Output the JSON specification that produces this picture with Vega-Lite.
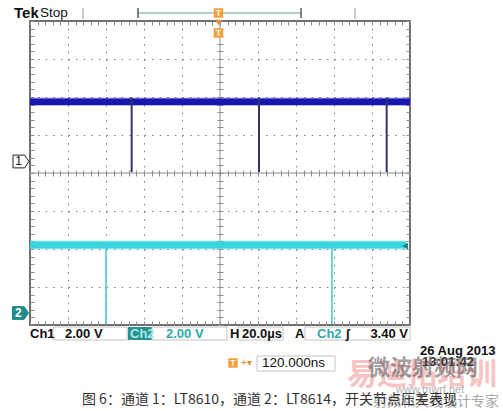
{
  "$schema": "https://vega.github.io/schema/vega-lite/v6.json",
  "width": 380,
  "height": 304,
  "autosize": {"type": "none"},
  "padding": {"left": 30, "top": 21, "right": 93, "bottom": 86},
  "background": "white",
  "config": {
    "view": {"stroke": "#6f6f6f", "strokeWidth": 2},
    "axis": {"labels": false, "domain": false, "grid": false, "tickColor": "#8c8c8c", "tickWidth": 1},
    "text": {"font": "Liberation Sans"}
  },
  "resolve": {"axis": {"x": "independent", "y": "independent"}},
  "datasets": {
    "ch1band": [{"x": 0, "x2": 10, "yo": 5.99, "yo2": 5.76, "yc": 5.96, "yc2": 5.79}],
    "ch2band": [{"x": 0, "x2": 9.9, "yo": 2.224, "yo2": 1.987, "yc": 2.197, "yc2": 2.013}],
    "ch1dips": [{"x": 2.675, "y": 5.99, "y2": 4.026}, {"x": 6.026, "y": 5.99, "y2": 4.026}, {"x": 9.386, "y": 5.99, "y2": 4.026}],
    "ch2dips": [{"x": 2.0, "y": 2.158, "y2": 0.026}, {"x": 7.947, "y": 2.158, "y2": 0.026}]
  },
  "layer": [
    {
      "data": {"values": [{"x": 5}]},
      "mark": {"type": "rule", "color": "#8c8c8c", "strokeWidth": 1},
      "encoding": {"x": {"field": "x", "type": "quantitative", "scale": {"domain": [0, 10], "nice": false, "zero": false}, "axis": null}}
    },
    {
      "data": {"values": [{"y": 4}]},
      "mark": {"type": "rule", "color": "#8c8c8c", "strokeWidth": 1},
      "encoding": {"y": {"field": "y", "type": "quantitative", "scale": {"domain": [0, 8], "nice": false, "zero": false}, "axis": null}}
    },
    {
      "data": {"name": "ch1band"},
      "mark": {"type": "rect", "color": "#2a2ac0", "opacity": 0.35},
      "encoding": {
        "x": {"field": "x", "type": "quantitative", "scale": {"domain": [0, 10], "nice": false, "zero": false},
          "axis": {"orient": "bottom", "values": [1, 2, 3, 4, 6, 7, 8, 9], "grid": true, "gridDash": [1.5, 6.1], "gridColor": "#7a7a7a", "ticks": false, "title": null}},
        "x2": {"field": "x2"},
        "y": {"field": "yo", "type": "quantitative", "scale": {"domain": [0, 8], "nice": false, "zero": false},
          "axis": {"orient": "left", "values": [1, 2, 3, 5, 6, 7], "grid": true, "gridDash": [1.5, 6.1], "gridColor": "#7a7a7a", "ticks": false, "title": null}},
        "y2": {"field": "yo2"}
      }
    },
    {
      "data": {"name": "ch1band"},
      "mark": {"type": "rect", "color": "#1818b0"},
      "encoding": {
        "x": {"field": "x", "type": "quantitative", "scale": {"domain": [0, 10], "nice": false, "zero": false},
          "axis": {"orient": "bottom", "offset": -4, "tickSize": 4, "title": null, "values": [0,0.2,0.4,0.6,0.8,1,1.2,1.4,1.6,1.8,2,2.2,2.4,2.6,2.8,3,3.2,3.4,3.6,3.8,4,4.2,4.4,4.6,4.8,5,5.2,5.4,5.6,5.8,6,6.2,6.4,6.6,6.8,7,7.2,7.4,7.6,7.8,8,8.2,8.4,8.6,8.8,9,9.2,9.4,9.6,9.8,10]}},
        "x2": {"field": "x2"},
        "y": {"field": "yc", "type": "quantitative", "scale": {"domain": [0, 8], "nice": false, "zero": false},
          "axis": {"orient": "left", "offset": -4, "tickSize": 4, "title": null, "values": [0,0.2,0.4,0.6,0.8,1,1.2,1.4,1.6,1.8,2,2.2,2.4,2.6,2.8,3,3.2,3.4,3.6,3.8,4,4.2,4.4,4.6,4.8,5,5.2,5.4,5.6,5.8,6,6.2,6.4,6.6,6.8,7,7.2,7.4,7.6,7.8,8]}},
        "y2": {"field": "yc2"}
      }
    },
    {
      "data": {"name": "ch2band"},
      "mark": {"type": "rect", "color": "#4adce4", "opacity": 0.4},
      "encoding": {
        "x": {"field": "x", "type": "quantitative", "scale": {"domain": [0, 10], "nice": false, "zero": false},
          "axis": {"orient": "top", "offset": -4, "tickSize": 4, "title": null, "values": [0,0.2,0.4,0.6,0.8,1,1.2,1.4,1.6,1.8,2,2.2,2.4,2.6,2.8,3,3.2,3.4,3.6,3.8,4,4.2,4.4,4.6,4.8,5,5.2,5.4,5.6,5.8,6,6.2,6.4,6.6,6.8,7,7.2,7.4,7.6,7.8,8,8.2,8.4,8.6,8.8,9,9.2,9.4,9.6,9.8,10]}},
        "x2": {"field": "x2"},
        "y": {"field": "yo", "type": "quantitative", "scale": {"domain": [0, 8], "nice": false, "zero": false},
          "axis": {"orient": "right", "offset": -4, "tickSize": 4, "title": null, "values": [0,0.2,0.4,0.6,0.8,1,1.2,1.4,1.6,1.8,2,2.2,2.4,2.6,2.8,3,3.2,3.4,3.6,3.8,4,4.2,4.4,4.6,4.8,5,5.2,5.4,5.6,5.8,6,6.2,6.4,6.6,6.8,7,7.2,7.4,7.6,7.8,8]}},
        "y2": {"field": "yo2"}
      }
    },
    {
      "data": {"name": "ch2band"},
      "mark": {"type": "rect", "color": "#3ad4de"},
      "encoding": {
        "x": {"field": "x", "type": "quantitative", "scale": {"domain": [0, 10], "nice": false, "zero": false},
          "axis": {"orient": "bottom", "offset": -155, "tickSize": 6, "title": null, "values": [0,0.2,0.4,0.6,0.8,1,1.2,1.4,1.6,1.8,2,2.2,2.4,2.6,2.8,3,3.2,3.4,3.6,3.8,4,4.2,4.4,4.6,4.8,5,5.2,5.4,5.6,5.8,6,6.2,6.4,6.6,6.8,7,7.2,7.4,7.6,7.8,8,8.2,8.4,8.6,8.8,9,9.2,9.4,9.6,9.8,10]}},
        "x2": {"field": "x2"},
        "y": {"field": "yc", "type": "quantitative", "scale": {"domain": [0, 8], "nice": false, "zero": false},
          "axis": {"orient": "left", "offset": -193, "tickSize": 6, "title": null, "values": [0,0.2,0.4,0.6,0.8,1,1.2,1.4,1.6,1.8,2,2.2,2.4,2.6,2.8,3,3.2,3.4,3.6,3.8,4,4.2,4.4,4.6,4.8,5,5.2,5.4,5.6,5.8,6,6.2,6.4,6.6,6.8,7,7.2,7.4,7.6,7.8,8]}},
        "y2": {"field": "yc2"}
      }
    },
    {
      "data": {"name": "ch1dips"},
      "mark": {"type": "rule", "color": "#34346e", "strokeWidth": 2},
      "encoding": {
        "x": {"field": "x", "type": "quantitative", "scale": {"domain": [0, 10], "nice": false, "zero": false}, "axis": null},
        "y": {"field": "y", "type": "quantitative", "scale": {"domain": [0, 8], "nice": false, "zero": false}, "axis": null},
        "y2": {"field": "y2"}
      }
    },
    {
      "data": {"name": "ch2dips"},
      "mark": {"type": "rule", "color": "#48ccd6", "strokeWidth": 1.6},
      "encoding": {
        "x": {"field": "x", "type": "quantitative", "scale": {"domain": [0, 10], "nice": false, "zero": false}, "axis": null},
        "y": {"field": "y", "type": "quantitative", "scale": {"domain": [0, 8], "nice": false, "zero": false}, "axis": null},
        "y2": {"field": "y2"}
      }
    },
    {
      "data": {"values": [{"x": 9.87, "y": 2.079}]},
      "mark": {"type": "point", "shape": "triangle-left", "filled": true, "color": "#1a7f84", "size": 45, "opacity": 1},
      "encoding": {
        "x": {"field": "x", "type": "quantitative", "scale": {"domain": [0, 10], "nice": false, "zero": false}, "axis": null},
        "y": {"field": "y", "type": "quantitative", "scale": {"domain": [0, 8], "nice": false, "zero": false}, "axis": null}
      }
    },
    {
      "data": {"values": [{"x": -0.237, "y": 4.303}]},
      "mark": {"type": "point", "shape": "M-1,-0.8L0.45,-0.8L1,0L0.45,0.8L-1,0.8Z", "filled": true, "fill": "white", "stroke": "#222222", "strokeWidth": 1, "size": 256, "opacity": 1},
      "encoding": {
        "x": {"field": "x", "type": "quantitative", "scale": {"domain": [0, 10], "nice": false, "zero": false}, "axis": null},
        "y": {"field": "y", "type": "quantitative", "scale": {"domain": [0, 8], "nice": false, "zero": false}, "axis": null}
      }
    },
    {
      "data": {"values": [{"x": -0.25, "y": 0.316}]},
      "mark": {"type": "point", "shape": "M-1,-0.8L0.45,-0.8L1,0L0.45,0.8L-1,0.8Z", "filled": true, "fill": "#1f8c8c", "stroke": "#1f8c8c", "strokeWidth": 1, "size": 256, "opacity": 1},
      "encoding": {
        "x": {"field": "x", "type": "quantitative", "scale": {"domain": [0, 10], "nice": false, "zero": false}, "axis": null},
        "y": {"field": "y", "type": "quantitative", "scale": {"domain": [0, 8], "nice": false, "zero": false}, "axis": null}
      }
    },
    {
      "data": {"values": [{"x": -0.30, "y": 4.303, "t": "1"}]},
      "mark": {"type": "text", "fontSize": 12, "color": "#111111", "align": "center", "baseline": "middle"},
      "encoding": {
        "x": {"field": "x", "type": "quantitative", "scale": {"domain": [0, 10], "nice": false, "zero": false}, "axis": null},
        "y": {"field": "y", "type": "quantitative", "scale": {"domain": [0, 8], "nice": false, "zero": false}, "axis": null},
        "text": {"field": "t"}
      }
    },
    {
      "data": {"values": [{"x": -0.31, "y": 0.316, "t": "2"}]},
      "mark": {"type": "text", "fontSize": 12, "fontWeight": "bold", "color": "white", "align": "center", "baseline": "middle"},
      "encoding": {
        "x": {"field": "x", "type": "quantitative", "scale": {"domain": [0, 10], "nice": false, "zero": false}, "axis": null},
        "y": {"field": "y", "type": "quantitative", "scale": {"domain": [0, 8], "nice": false, "zero": false}, "axis": null},
        "text": {"field": "t"}
      }
    },
    {
      "data": {"values": [{"x": 1.395, "y": 8.342, "y2": 8.053}, {"x": 8.553, "y": 8.342, "y2": 8.053}]},
      "mark": {"type": "rule", "color": "#9a9a9a", "strokeWidth": 1},
      "encoding": {
        "x": {"field": "x", "type": "quantitative", "scale": {"domain": [0, 10], "nice": false, "zero": false}, "axis": null},
        "y": {"field": "y", "type": "quantitative", "scale": {"domain": [0, 8], "nice": false, "zero": false}, "axis": null},
        "y2": {"field": "y2"}
      }
    },
    {
      "data": {"values": [{"x": 2.842, "x2": 7.132, "y": 8.211}]},
      "mark": {"type": "rule", "color": "#6a9e9e", "strokeWidth": 1.2},
      "encoding": {
        "x": {"field": "x", "type": "quantitative", "scale": {"domain": [0, 10], "nice": false, "zero": false}, "axis": null},
        "x2": {"field": "x2"},
        "y": {"field": "y", "type": "quantitative", "scale": {"domain": [0, 8], "nice": false, "zero": false}, "axis": null}
      }
    },
    {
      "data": {"values": [{"x": 2.842, "y": 8.342, "y2": 8.08}, {"x": 7.132, "y": 8.342, "y2": 8.08}]},
      "mark": {"type": "rule", "color": "#333333", "strokeWidth": 1.2},
      "encoding": {
        "x": {"field": "x", "type": "quantitative", "scale": {"domain": [0, 10], "nice": false, "zero": false}, "axis": null},
        "y": {"field": "y", "type": "quantitative", "scale": {"domain": [0, 8], "nice": false, "zero": false}, "axis": null},
        "y2": {"field": "y2"}
      }
    },
    {
      "data": {"values": [{"x": 4.96, "y": 8.211}, {"x": 4.96, "y": 7.684}, {"x": 5.342, "y": -1.0}]},
      "mark": {"type": "point", "shape": "square", "filled": true, "color": "#f0a040", "size": 90, "opacity": 1},
      "encoding": {
        "x": {"field": "x", "type": "quantitative", "scale": {"domain": [0, 10], "nice": false, "zero": false}, "axis": null},
        "y": {"field": "y", "type": "quantitative", "scale": {"domain": [0, 8], "nice": false, "zero": false}, "axis": null}
      }
    },
    {
      "data": {"values": [{"x": 4.96, "y": 7.96}]},
      "mark": {"type": "point", "shape": "triangle-down", "filled": true, "color": "#e8902a", "size": 40, "opacity": 1},
      "encoding": {
        "x": {"field": "x", "type": "quantitative", "scale": {"domain": [0, 10], "nice": false, "zero": false}, "axis": null},
        "y": {"field": "y", "type": "quantitative", "scale": {"domain": [0, 8], "nice": false, "zero": false}, "axis": null}
      }
    },
    {
      "data": {"values": [{"x": 4.96, "y": 7.684, "t": "T"}, {"x": 4.96, "y": 8.211, "t": "T"}, {"x": 5.342, "y": -1.0, "t": "T"}]},
      "mark": {"type": "text", "fontSize": 9, "fontWeight": "bold", "color": "#fff4dc", "align": "center", "baseline": "middle"},
      "encoding": {
        "x": {"field": "x", "type": "quantitative", "scale": {"domain": [0, 10], "nice": false, "zero": false}, "axis": null},
        "y": {"field": "y", "type": "quantitative", "scale": {"domain": [0, 8], "nice": false, "zero": false}, "axis": null},
        "text": {"field": "t"}
      }
    },
    {
      "data": {"values": [{"x": 5.55, "y": -1.0, "t": "+▾"}]},
      "mark": {"type": "text", "fontSize": 10, "color": "#e8902a", "align": "left", "baseline": "middle"},
      "encoding": {
        "x": {"field": "x", "type": "quantitative", "scale": {"domain": [0, 10], "nice": false, "zero": false}, "axis": null},
        "y": {"field": "y", "type": "quantitative", "scale": {"domain": [0, 8], "nice": false, "zero": false}, "axis": null},
        "text": {"field": "t"}
      }
    },
    {
      "data": {"values": [{"x": 2.579, "x2": 3.211, "y": -0.053, "y2": -0.395}]},
      "mark": {"type": "rect", "color": "#2a8f8f"},
      "encoding": {
        "x": {"field": "x", "type": "quantitative", "scale": {"domain": [0, 10], "nice": false, "zero": false}, "axis": null},
        "x2": {"field": "x2"},
        "y": {"field": "y", "type": "quantitative", "scale": {"domain": [0, 8], "nice": false, "zero": false}, "axis": null},
        "y2": {"field": "y2"}
      }
    },
    {
      "data": {"values": [
        {"x": 0.605, "x2": 2.553, "y": -0.053, "y2": -0.395},
        {"x": 3.211, "x2": 5.184, "y": -0.053, "y2": -0.395},
        {"x": 5.474, "x2": 6.658, "y": -0.053, "y2": -0.395},
        {"x": 7.237, "x2": 10.0, "y": -0.053, "y2": -0.395},
        {"x": 5.974, "x2": 8.026, "y": -0.816, "y2": -1.211}
      ]},
      "mark": {"type": "rect", "fill": "transparent", "stroke": "#c4c4c4", "strokeWidth": 1},
      "encoding": {
        "x": {"field": "x", "type": "quantitative", "scale": {"domain": [0, 10], "nice": false, "zero": false}, "axis": null},
        "x2": {"field": "x2"},
        "y": {"field": "y", "type": "quantitative", "scale": {"domain": [0, 8], "nice": false, "zero": false}, "axis": null},
        "y2": {"field": "y2"}
      }
    },
    {
      "data": {"values": [{"x": -0.42, "y": 8.211, "t": "Tek"}]},
      "mark": {"type": "text", "fontSize": 15, "fontWeight": "bold", "color": "#111111", "align": "left", "baseline": "middle"},
      "encoding": {
        "x": {"field": "x", "type": "quantitative", "scale": {"domain": [0, 10], "nice": false, "zero": false}, "axis": null},
        "y": {"field": "y", "type": "quantitative", "scale": {"domain": [0, 8], "nice": false, "zero": false}, "axis": null},
        "text": {"field": "t"}
      }
    },
    {
      "data": {"values": [{"x": 0.26, "y": 8.211, "t": "Stop"}]},
      "mark": {"type": "text", "fontSize": 13.5, "color": "#111111", "align": "left", "baseline": "middle"},
      "encoding": {
        "x": {"field": "x", "type": "quantitative", "scale": {"domain": [0, 10], "nice": false, "zero": false}, "axis": null},
        "y": {"field": "y", "type": "quantitative", "scale": {"domain": [0, 8], "nice": false, "zero": false}, "axis": null},
        "text": {"field": "t"}
      }
    },
    {
      "data": {"values": [
        {"x": 0.0, "y": -0.237, "t": "Ch1"},
        {"x": 0.921, "y": -0.237, "t": "2.00 V"},
        {"x": 5.263, "y": -0.237, "t": "H"},
        {"x": 5.579, "y": -0.237, "t": "20.0µs"},
        {"x": 6.974, "y": -0.237, "t": "A"},
        {"x": 8.3, "y": -0.237, "t": "ʃ"},
        {"x": 10.263, "y": -0.684, "t": "26 Aug 2013"}
      ]},
      "mark": {"type": "text", "fontSize": 13, "fontWeight": "bold", "color": "#111111", "align": "left", "baseline": "middle"},
      "encoding": {
        "x": {"field": "x", "type": "quantitative", "scale": {"domain": [0, 10], "nice": false, "zero": false}, "axis": null},
        "y": {"field": "y", "type": "quantitative", "scale": {"domain": [0, 8], "nice": false, "zero": false}, "axis": null},
        "text": {"field": "t"}
      }
    },
    {
      "data": {"values": [{"x": 9.947, "y": -0.237, "t": "3.40 V"}]},
      "mark": {"type": "text", "fontSize": 13, "fontWeight": "bold", "color": "#111111", "align": "right", "baseline": "middle"},
      "encoding": {
        "x": {"field": "x", "type": "quantitative", "scale": {"domain": [0, 10], "nice": false, "zero": false}, "axis": null},
        "y": {"field": "y", "type": "quantitative", "scale": {"domain": [0, 8], "nice": false, "zero": false}, "axis": null},
        "text": {"field": "t"}
      }
    },
    {
      "data": {"values": [{"x": 3.579, "y": -0.237, "t": "2.00 V"}, {"x": 7.553, "y": -0.237, "t": "Ch2"}]},
      "mark": {"type": "text", "fontSize": 13, "fontWeight": "bold", "color": "#2fa8aa", "align": "left", "baseline": "middle"},
      "encoding": {
        "x": {"field": "x", "type": "quantitative", "scale": {"domain": [0, 10], "nice": false, "zero": false}, "axis": null},
        "y": {"field": "y", "type": "quantitative", "scale": {"domain": [0, 8], "nice": false, "zero": false}, "axis": null},
        "text": {"field": "t"}
      }
    },
    {
      "data": {"values": [{"x": 2.632, "y": -0.237, "t": "Ch2"}]},
      "mark": {"type": "text", "fontSize": 13, "fontWeight": "bold", "color": "#a6ecec", "align": "left", "baseline": "middle"},
      "encoding": {
        "x": {"field": "x", "type": "quantitative", "scale": {"domain": [0, 10], "nice": false, "zero": false}, "axis": null},
        "y": {"field": "y", "type": "quantitative", "scale": {"domain": [0, 8], "nice": false, "zero": false}, "axis": null},
        "text": {"field": "t"}
      }
    },
    {
      "data": {"values": [{"x": 6.105, "y": -1.0, "t": "120.000ns"}]},
      "mark": {"type": "text", "fontSize": 13.5, "color": "#111111", "align": "left", "baseline": "middle"},
      "encoding": {
        "x": {"field": "x", "type": "quantitative", "scale": {"domain": [0, 10], "nice": false, "zero": false}, "axis": null},
        "y": {"field": "y", "type": "quantitative", "scale": {"domain": [0, 8], "nice": false, "zero": false}, "axis": null},
        "text": {"field": "t"}
      }
    },
    {
      "data": {"values": [{"x": 10.316, "y": -1.316, "t": "易迪拓培训"}]},
      "mark": {"type": "text", "font": "Noto Sans CJK SC", "fontSize": 30, "fontWeight": "bold", "color": "#ee6b6b", "opacity": 0.4, "align": "center", "baseline": "middle"},
      "encoding": {
        "x": {"field": "x", "type": "quantitative", "scale": {"domain": [0, 10], "nice": false, "zero": false}, "axis": null},
        "y": {"field": "y", "type": "quantitative", "scale": {"domain": [0, 8], "nice": false, "zero": false}, "axis": null},
        "text": {"field": "t"}
      }
    },
    {
      "data": {"values": [{"x": 10.316, "y": -0.974, "t": "13:01:42"}]},
      "mark": {"type": "text", "fontSize": 13, "fontWeight": "bold", "color": "#333333", "align": "left", "baseline": "middle"},
      "encoding": {
        "x": {"field": "x", "type": "quantitative", "scale": {"domain": [0, 10], "nice": false, "zero": false}, "axis": null},
        "y": {"field": "y", "type": "quantitative", "scale": {"domain": [0, 8], "nice": false, "zero": false}, "axis": null},
        "text": {"field": "t"}
      }
    },
    {
      "data": {"values": [{"x": 10.342, "y": -1.132, "t": "微波射频网"}]},
      "mark": {"type": "text", "font": "Noto Sans CJK SC", "fontSize": 22, "fontWeight": "bold", "color": "#555555", "opacity": 0.55, "align": "center", "baseline": "middle"},
      "encoding": {
        "x": {"field": "x", "type": "quantitative", "scale": {"domain": [0, 10], "nice": false, "zero": false}, "axis": null},
        "y": {"field": "y", "type": "quantitative", "scale": {"domain": [0, 8], "nice": false, "zero": false}, "axis": null},
        "text": {"field": "t"}
      }
    },
    {
      "data": {"values": [{"x": 10.526, "y": -1.711, "t": "www.mwrf.net"}]},
      "mark": {"type": "text", "fontSize": 11, "color": "#b0b0b0", "align": "center", "baseline": "middle"},
      "encoding": {
        "x": {"field": "x", "type": "quantitative", "scale": {"domain": [0, 10], "nice": false, "zero": false}, "axis": null},
        "y": {"field": "y", "type": "quantitative", "scale": {"domain": [0, 8], "nice": false, "zero": false}, "axis": null},
        "text": {"field": "t"}
      }
    },
    {
      "data": {"values": [{"x": 10.684, "y": -2.026, "t": "射频和天线设计专家"}]},
      "mark": {"type": "text", "font": "Noto Sans CJK SC", "fontSize": 14, "color": "#a8a8a8", "align": "center", "baseline": "middle"},
      "encoding": {
        "x": {"field": "x", "type": "quantitative", "scale": {"domain": [0, 10], "nice": false, "zero": false}, "axis": null},
        "y": {"field": "y", "type": "quantitative", "scale": {"domain": [0, 8], "nice": false, "zero": false}, "axis": null},
        "text": {"field": "t"}
      }
    },
    {
      "data": {"values": [{"x": 1.368, "y": -1.974, "t": "图 6：通道 1：LT8610，通道 2：LT8614，开关节点压差表现"}]},
      "mark": {"type": "text", "font": "Noto Sans CJK SC", "fontSize": 14, "color": "#333333", "align": "left", "baseline": "middle"},
      "encoding": {
        "x": {"field": "x", "type": "quantitative", "scale": {"domain": [0, 10], "nice": false, "zero": false}, "axis": null},
        "y": {"field": "y", "type": "quantitative", "scale": {"domain": [0, 8], "nice": false, "zero": false}, "axis": null},
        "text": {"field": "t"}
      }
    }
  ]
}
